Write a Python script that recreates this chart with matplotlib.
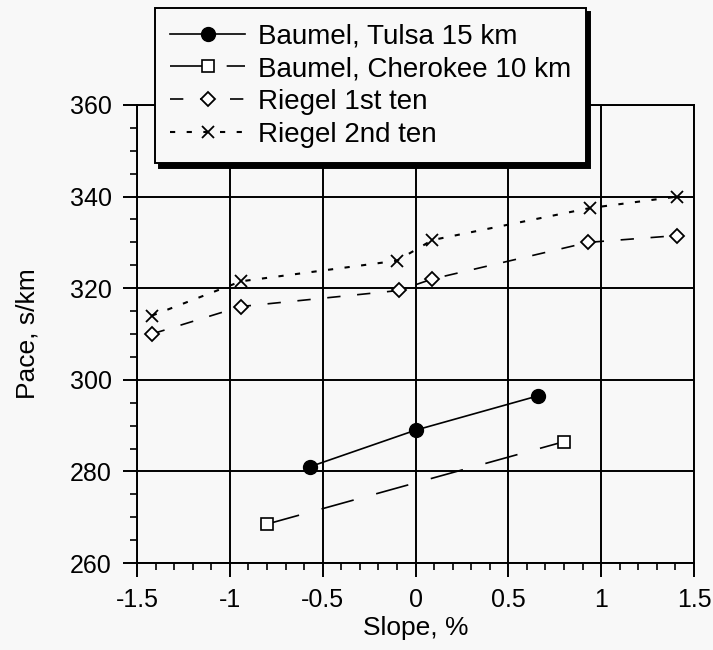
import numpy as np
import matplotlib
matplotlib.use("Agg")
import matplotlib.pyplot as plt
from matplotlib.ticker import MultipleLocator

plt.rcParams['font.family'] = ['Liberation Sans', 'DejaVu Sans']

# data
tulsa_x = [-0.57, 0.0, 0.66]
tulsa_y = [281.0, 289.0, 296.5]

cherokee_x = [-0.80, 0.80]
cherokee_y = [268.5, 286.5]

riegel1_x = [-1.42, -0.94, -0.09, 0.09, 0.93, 1.41]
riegel1_y = [310.0, 316.0, 319.5, 322.0, 330.0, 331.5]

riegel2_x = [-1.42, -0.94, -0.10, 0.09, 0.94, 1.41]
riegel2_y = [314.0, 321.5, 326.0, 330.5, 337.5, 340.0]

labels = ["Baumel, Tulsa 15 km", "Baumel, Cherokee 10 km",
          "Riegel 1st ten", "Riegel 2nd ten"]

x_ticks = [-1.5, -1, -0.5, 0, 0.5, 1, 1.5]
x_ticklabels = ["-1.5", "-1", "-0.5", "0", "0.5", "1", "1.5"]
y_ticks = [260, 280, 300, 320, 340, 360]

bg = '#f8f8f8'
fig = plt.figure(figsize=(7.13, 6.5), dpi=100, facecolor=bg)
ax = fig.add_axes([0.1921, 0.1338, 0.7813, 0.7047])
ax.set_facecolor(bg)

lw = 1.2
ax.plot(tulsa_x, tulsa_y, color='k', lw=lw, marker='o', ms=10,
        label=labels[0])
ax.plot(cherokee_x, cherokee_y, color='k', lw=lw, dashes=(20, 14),
        marker='s', ms=8, mfc='white', mew=1.2, label=labels[1])
ax.plot(riegel1_x, riegel1_y, color='k', lw=lw, dashes=(8, 10),
        marker='D', ms=7.5, mfc='white', mew=1.3, label=labels[2])
ax.plot(riegel2_x, riegel2_y, color='k', lw=1.5, dashes=(2.5, 5.5),
        marker='x', ms=9, mew=1.3, label=labels[3])

ax.set_xlim(-1.5, 1.5)
ax.set_ylim(260, 360)
ax.set_xticks(x_ticks)
ax.set_xticklabels(x_ticklabels)
ax.set_yticks(y_ticks)
ax.xaxis.set_minor_locator(MultipleLocator(0.1))
ax.yaxis.set_minor_locator(MultipleLocator(5))

ax.grid(True, which='major', color='k', lw=1.4)
ax.set_axisbelow(True)
for s in ax.spines.values():
    s.set_linewidth(1.4)

ax.tick_params(which='major', direction='out', length=10, width=1.4,
               pad=8, labelsize=18)
ax.tick_params(which='minor', direction='out', length=5, width=1.2)

ax.set_xlabel("Slope, %", fontsize=19, labelpad=3)
ax.set_ylabel("Pace, s/km", fontsize=19, labelpad=22)

leg = fig.legend(loc='upper left', bbox_to_anchor=(0.2174, 0.9877),
                 borderaxespad=0, fontsize=20, handlelength=2.7,
                 handletextpad=0.45, labelspacing=0.25, borderpad=0.55,
                 fancybox=False, framealpha=1, edgecolor='k',
                 shadow={'color': 'k', 'alpha': 1, 'ox': 3, 'oy': -3})
leg.get_frame().set_linewidth(1.4)
leg.get_frame().set_facecolor(bg)

fig.savefig("out.png", dpi=100, facecolor=bg)
